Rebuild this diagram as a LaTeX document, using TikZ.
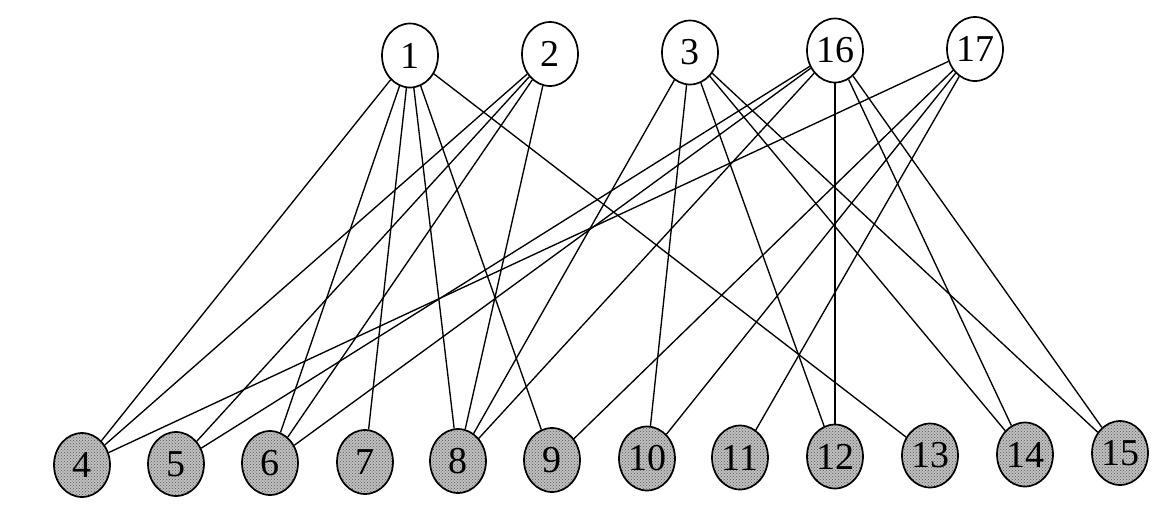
\documentclass[tikz,border=0pt]{standalone}
\usepackage{fontspec}
\setmainfont{Liberation Serif}
\usetikzlibrary{shapes.geometric,patterns}
\begin{document}
\begin{tikzpicture}[x=1pt,y=-1pt,
  vtx/.style={ellipse, draw=black, line width=1.7pt, minimum width=56pt, minimum height=64pt, inner sep=0pt, font=\fontsize{38}{38}\selectfont},
  topv/.style={vtx, fill=white},
  botv/.style={vtx, preaction={fill=black!25}, pattern=crosshatch dots, pattern color=black!65},
  edge/.style={line width=1.35pt}]
\useasboundingbox (0,0) rectangle (1168,517);
% top row
\node[topv] (n1)  at (410,55.5) {1};
\node[topv] (n2)  at (550,54)   {2};
\node[topv] (n3)  at (690,52.5) {3};
\node[topv] (n16) at (835,50.5) {16};
\node[topv] (n17) at (975,49)   {17};
% bottom row
\node[botv] (n4)  at (82,465)   {4};
\node[botv] (n5)  at (176,464)  {5};
\node[botv] (n6)  at (270,463)  {6};
\node[botv] (n7)  at (365,462)  {7};
\node[botv] (n8)  at (458,461)  {8};
\node[botv] (n9)  at (552,460)  {9};
\node[botv] (n10) at (647,458.5){10};
\node[botv] (n11) at (740,457.5){11};
\node[botv] (n12) at (835,456.5){12};
\node[botv] (n13) at (930,455.5){13};
\node[botv] (n14) at (1025,454.5){14};
\node[botv] (n15) at (1120,453) {15};
% edges
\foreach \a/\b in {n1/n4,n1/n6,n1/n7,n1/n8,n1/n9,n1/n13,
                   n2/n4,n2/n5,n2/n6,n2/n8,
                   n3/n8,n3/n10,n3/n12,n3/n14,n3/n15,
                   n16/n5,n16/n6,n16/n8,n16/n12,n16/n14,n16/n15,
                   n17/n4,n17/n9,n17/n10,n17/n11}
  \draw[edge] (\a) -- (\b);
\end{tikzpicture}
\end{document}
